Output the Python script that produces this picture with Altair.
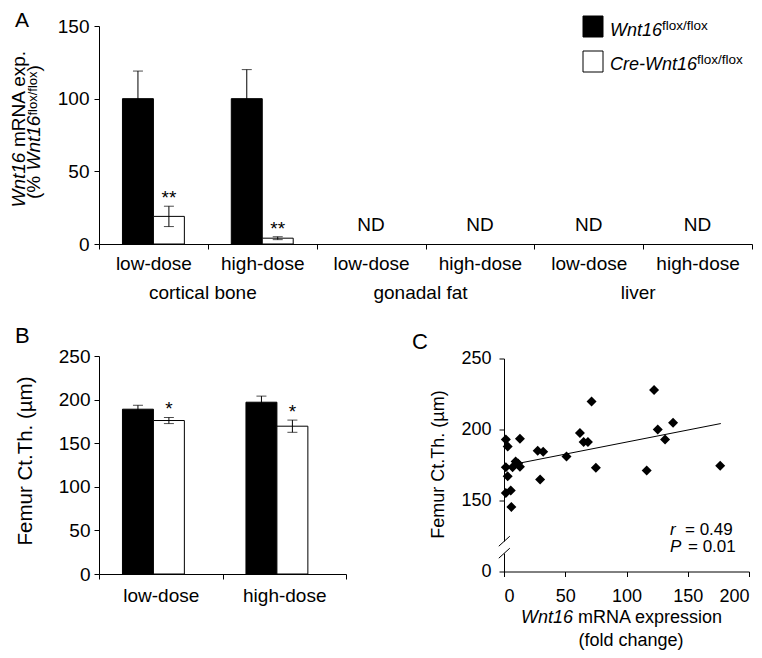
import altair as alt
import pandas as pd

FONT = "Liberation Sans, Arial, Helvetica, sans-serif"

# ---------------- data ----------------
GENO = ["flox", "cre"]

A_TISSUES = ["cortical bone", "gonadal fat", "liver"]
A_DOSES = ["low-dose", "high-dose"]
A_FLOX_MEAN = [100, 100]        # cortical bone: low, high
A_FLOX_ERR = [19, 20]
A_CRE_MEAN = [19, 4]
A_CRE_ERR = [7, 1]
A_CRE_SIG = ["**", "**"]
A_ND_TISSUES = ["gonadal fat", "liver"]
A_Y_TICKS = [0, 50, 100, 150]

B_DOSES = ["low-dose", "high-dose"]
B_FLOX_MEAN = [189, 197]
B_FLOX_ERR = [4.5, 7]
B_CRE_MEAN = [176, 169.5]
B_CRE_ERR = [3.5, 7]
B_CRE_SIG = ["*", "*"]
B_Y_TICKS = [0, 50, 100, 150, 200, 250]

C_EXPR = [1.5, 3, 1.5, 3, 1.5, 5.5, 6, 7, 9.5, 11.5, 13, 13, 27.5, 32, 29.5,
          51, 62, 65, 68.5, 71.5, 75, 116.5, 122.5, 125.5, 131.5, 138, 176.5]
C_CTTH = [193, 188, 173.5, 167, 155.3, 157, 145.5, 173.5, 177.5, 176, 173.8, 193.5, 185, 184.3, 164.8,
          181, 197.5, 191.2, 191.2, 219.8, 173, 171.2, 227.8, 200, 193, 204.8, 174.5]
C_FIT_X = [12, 177]
C_FIT_Y = [176.2, 204.2]
C_X_TICKS = [0, 50, 100, 150, 200]
C_Y_TICKS = [100, 150, 200, 250]   # lowest tick shown as "0" below the axis break
C_R = "0.49"
C_P = "0.01"

ONE = pd.DataFrame({"_": [0]})


def key(t, d):
    return f"{t}|{d}"


def txt(text, x, y, size=19, italic=False, angle=0, align="left", baseline="alphabetic"):
    return alt.Chart(ONE).mark_text(
        text=text, font=FONT, fontSize=size, fontStyle="italic" if italic else "normal",
        angle=angle, align=align, baseline=baseline, color="black"
    ).encode(x=alt.value(x), y=alt.value(y))


def seg(x, y, x2, y2, color="black", width=1):
    return alt.Chart(ONE).mark_rule(color=color, strokeWidth=width).encode(
        x=alt.value(x), y=alt.value(y), x2=alt.value(x2), y2=alt.value(y2))


def box(x, y, x2, y2, fill):
    return alt.Chart(ONE).mark_rect(fill=fill, stroke="black", strokeWidth=1).encode(
        x=alt.value(x), x2=alt.value(x2), y=alt.value(y), y2=alt.value(y2))


def bar_frame(tissue_dose_keys, flox_mean, flox_err, cre_mean, cre_err, cre_sig):
    rows = []
    for i, k in enumerate(tissue_dose_keys):
        rows.append(dict(key=k, geno="flox", mean=flox_mean[i],
                         lo=flox_mean[i] - flox_err[i], hi=flox_mean[i] + flox_err[i], sig=""))
        rows.append(dict(key=k, geno="cre", mean=cre_mean[i],
                         lo=cre_mean[i] - cre_err[i], hi=cre_mean[i] + cre_err[i], sig=cre_sig[i]))
    return pd.DataFrame(rows)


def bar_layers(keys, df, ydom, yticks, font_size, xlab_pad, ylab_pad, off_pad):
    xscale = alt.Scale(domain=keys, paddingInner=0, paddingOuter=0)
    xaxis = alt.Axis(title=None, tickBand="extent", labelExpr="split(datum.value, '|')[1]",
                     labelAngle=0, tickSize=5, labelPadding=xlab_pad, labelFontSize=font_size,
                     labelFont=FONT, labelColor="black", domainColor="black", tickColor="black")

    def X(**kw):
        return alt.X("key:N", scale=xscale, axis=xaxis, sort=keys, **kw)

    XO = alt.XOffset("geno:N", scale=alt.Scale(domain=GENO, paddingInner=0, paddingOuter=off_pad), sort=GENO)
    yscale = alt.Scale(domain=ydom, nice=False, zero=False)
    yaxis = alt.Axis(title=None, values=yticks, tickSize=5, labelPadding=ylab_pad,
                     labelFontSize=font_size, labelFont=FONT, labelColor="black",
                     domainColor="black", tickColor="black", grid=False)

    def Y(f):
        return alt.Y(f, scale=yscale, axis=yaxis)

    base = alt.Chart(df)
    bars = base.mark_bar(stroke="black", strokeWidth=1).encode(
        x=X(), xOffset=XO, y=Y("mean:Q"),
        color=alt.Color("geno:N", scale=alt.Scale(domain=GENO, range=["black", "white"]), legend=None))
    err = base.mark_rule(color="black", strokeWidth=1).encode(x=X(), xOffset=XO, y=Y("lo:Q"), y2="hi:Q")
    cap_hi = base.mark_tick(color="black", thickness=1, size=10, orient="horizontal").encode(
        x=X(), xOffset=XO, y=Y("hi:Q"))
    cap_lo = base.mark_tick(color="black", thickness=1, size=10, orient="horizontal").encode(
        x=X(), xOffset=XO, y=Y("lo:Q"))
    stars = base.transform_filter("datum.sig != ''").mark_text(
        dy=-2, baseline="alphabetic", fontSize=font_size, font=FONT, color="black").encode(
        x=X(), xOffset=XO, y=Y("hi:Q"), text="sig:N")
    return X, [bars, err, cap_hi, cap_lo, stars]


# ---------------- panel A ----------------
AW, AH = 653, 218
a_keys = [key(t, d) for t in A_TISSUES for d in A_DOSES]
a_df = bar_frame([key(A_TISSUES[0], d) for d in A_DOSES], A_FLOX_MEAN, A_FLOX_ERR,
                 A_CRE_MEAN, A_CRE_ERR, A_CRE_SIG)
XA, a_layers = bar_layers(a_keys, a_df, [0, 150], A_Y_TICKS, 19, 5, 5, 0.758)

nd_df = pd.DataFrame({"key": [key(t, d) for t in A_ND_TISSUES for d in A_DOSES], "lab": "ND"})
nd = alt.Chart(nd_df).mark_text(fontSize=19, font=FONT, color="black", baseline="alphabetic").encode(
    x=XA(), y=alt.value(AH - 13), text="lab:N")
grp_df = pd.DataFrame({"key": [key(t, A_DOSES[1]) for t in A_TISSUES], "lab": A_TISSUES})
grp = alt.Chart(grp_df).mark_text(fontSize=19, font=FONT, color="black", baseline="alphabetic", dx=-5).encode(
    x=XA(bandPosition=0), y=alt.value(AH + 55), text="lab:N")

a_extra = [
    nd, grp,
    # legend
    box(484, -10, 504, 11, "black"), box(484, 25, 504, 46, "white"),
    txt("Wnt16", 511, 10, 18, italic=True), txt("flox/flox", 563, 4, 13.5),
    txt("Cre-Wnt16", 511, 44, 18, italic=True), txt("flox/flox", 598, 38, 13.5),
    # y title (two lines, rotated)
    txt("Wnt16", -74, 181.5, 19, italic=True, angle=270), txt("mRNA exp.", -74, 121, 19, angle=270),
    txt("(%", -59, 173, 19, angle=270), txt("Wnt16", -59, 144.5, 19, italic=True, angle=270),
    txt("flox/flox", -62, 89.5, 13, angle=270), txt(")", -59, 45.5, 19, angle=270),
    # panel letter
    txt("A", -84, 1, 21),
]
panelA = alt.layer(*a_layers, *a_extra).properties(width=AW, height=AH)

# ---------------- panel B ----------------
BW, BH = 247, 218
b_keys = [key("b", d) for d in B_DOSES]
b_df = bar_frame(b_keys, B_FLOX_MEAN, B_FLOX_ERR, B_CRE_MEAN, B_CRE_ERR, B_CRE_SIG)
XB, b_layers = bar_layers(b_keys, b_df, [0, 250], B_Y_TICKS, 19, 7, 4, 0.715)
b_extra = [
    txt("Femur Ct.Th. (µm)", -67, 105, 20.5, angle=270, align="center"),
    txt("B", -84, -13, 22),
]
panelB = alt.layer(*b_layers, *b_extra).properties(width=BW, height=BH)

# ---------------- panel C ----------------
CW, CH = 245, 213
xs = alt.Scale(domain=[0, 200], nice=False, zero=False)
ys = alt.Scale(domain=[100, 250], nice=False, zero=False)
cx_axis = alt.Axis(title=None, values=C_X_TICKS, tickSize=5, labelPadding=11, labelFontSize=18,
                   labelFont=FONT, labelColor="black", domainColor="black", tickColor="black", grid=False)
cy_axis = alt.Axis(title=None, values=C_Y_TICKS, tickSize=5, labelPadding=8, labelFontSize=18,
                   labelFont=FONT, labelColor="black", domainColor="black", tickColor="black", grid=False,
                   labelExpr="datum.value == 100 ? '0' : datum.label")
c_df = pd.DataFrame({"expr": C_EXPR, "ctth": C_CTTH})
fit_df = pd.DataFrame({"expr": C_FIT_X, "ctth": C_FIT_Y})
pts = alt.Chart(c_df).mark_point(shape="diamond", filled=True, size=100, color="black", opacity=1).encode(
    x=alt.X("expr:Q", scale=xs, axis=cx_axis), y=alt.Y("ctth:Q", scale=ys, axis=cy_axis))
fit = alt.Chart(fit_df).mark_line(color="black", strokeWidth=1).encode(
    x=alt.X("expr:Q", scale=xs, axis=cx_axis), y=alt.Y("ctth:Q", scale=ys, axis=cy_axis))
c_extra = [
    seg(0, 183, 0, 195, color="white", width=4),
    seg(-5.2, 187.7, 5.8, 177.7), seg(-5.2, 199.7, 5.8, 189.7),
    txt("r", 166, 176, 17, italic=True), txt("= " + C_R, 181, 176, 17),
    txt("P", 166, 193.5, 17, italic=True), txt("= " + C_P, 184, 193.5, 17),
    txt("Femur Ct.Th. (µm)", -60, 106, 18, angle=270, align="center"),
    txt("Wnt16", 17, CH + 51, 18, italic=True), txt("mRNA expression", 74, CH + 51, 18),
    txt("(fold change)", 127, CH + 74, 18, align="center"),
    txt("C", -92, -10, 22),
]
panelC = alt.layer(fit, pts, *c_extra).properties(width=CW, height=CH)

bottom = alt.hconcat(panelB, panelC, spacing=158, bounds="flush", center=True)
chart = alt.vconcat(panelA, bottom, spacing=112, bounds="flush").properties(
    padding={"left": 2, "top": 2, "right": 0, "bottom": 0}
).configure_view(stroke=None).configure_axis(grid=False, domainWidth=1, tickWidth=1)

chart.save("out.html", embed_options={"renderer": "svg", "actions": False})
